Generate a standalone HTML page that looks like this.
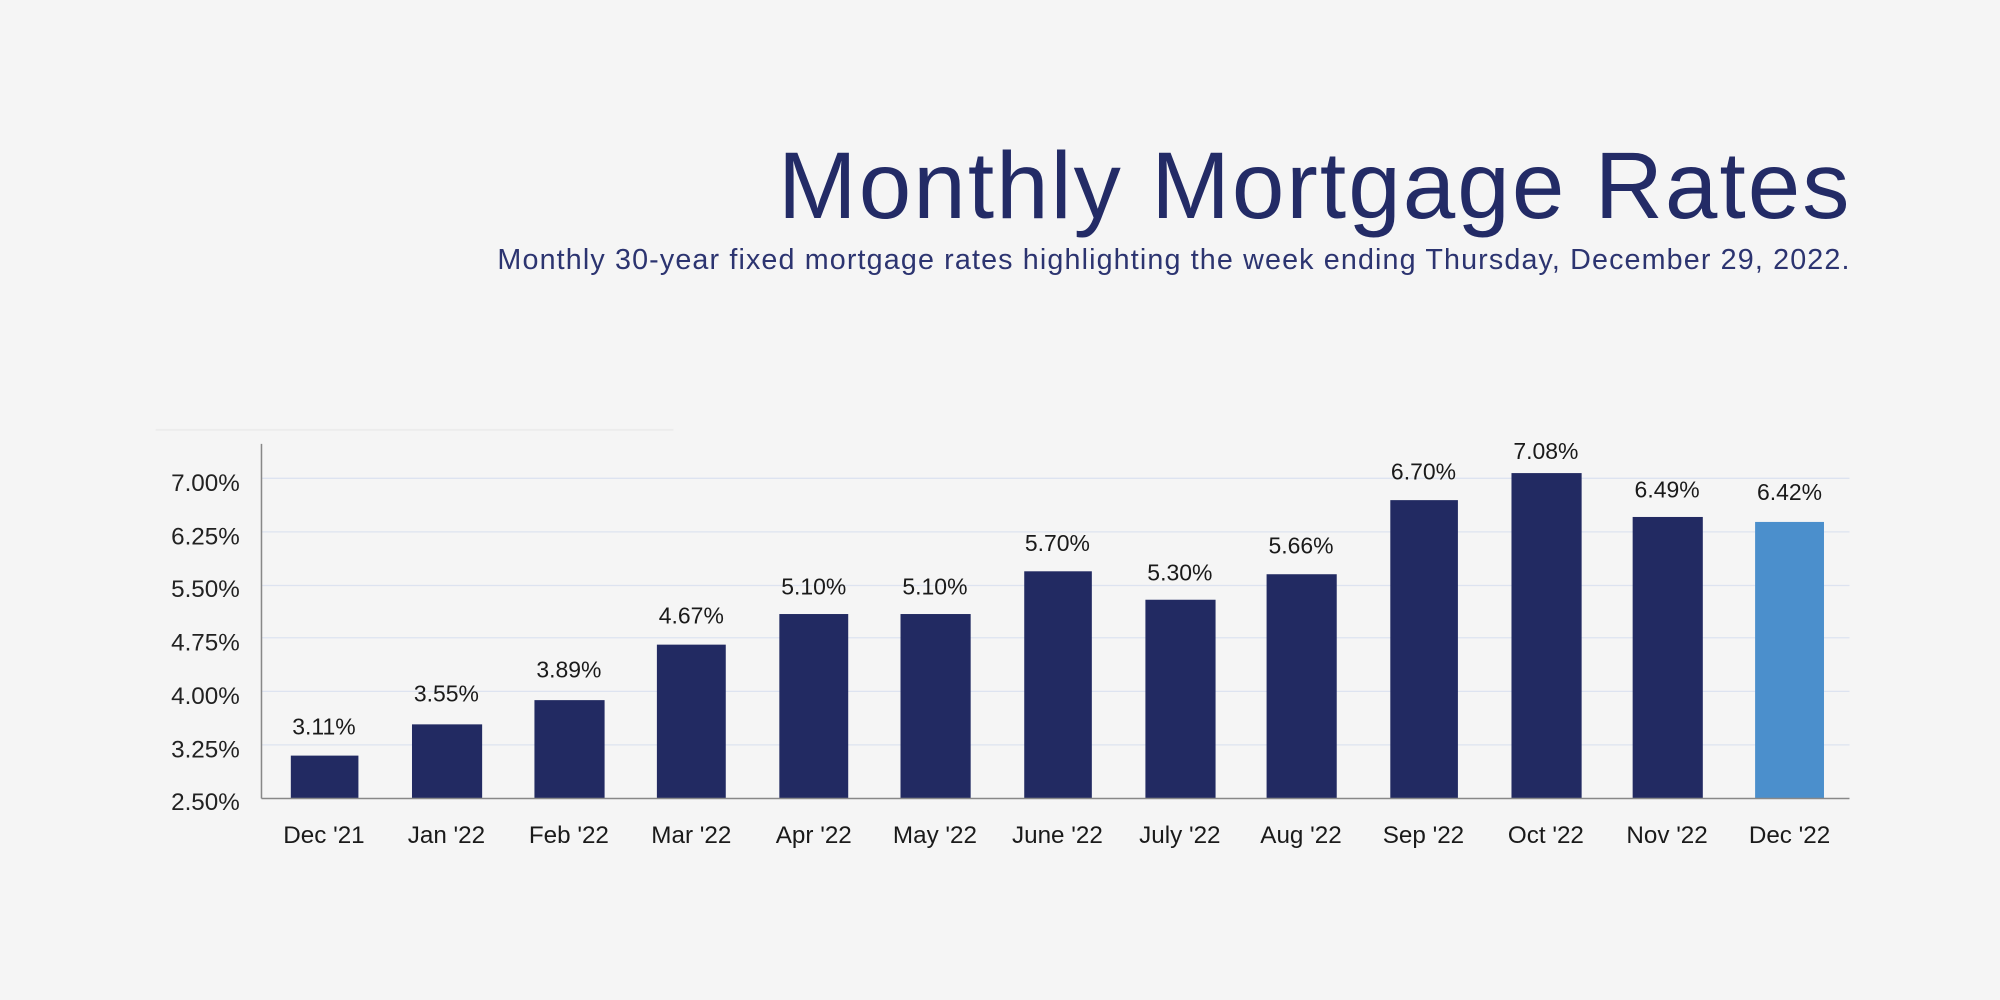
<!DOCTYPE html>
<html><head><meta charset="utf-8"><style>
html,body{margin:0;padding:0;background:#f5f5f5;}
svg{display:block;font-family:"Liberation Sans",Arial,sans-serif;}
</style></head><body>
<svg width="2000" height="1000" viewBox="0 0 1568 784" xmlns="http://www.w3.org/2000/svg">
<rect width="1568" height="784" fill="#f5f5f5"/>
<text x="610" y="171" font-size="74" fill="#232b66" textLength="840" lengthAdjust="spacing">Monthly Mortgage Rates</text>
<text x="390" y="211" font-size="22.5" fill="#2c3470" textLength="1060" lengthAdjust="spacing">Monthly 30-year fixed mortgage rates highlighting the week ending Thursday, December 29, 2022.</text>
<line x1="122" y1="337" x2="528" y2="337" stroke="#ececec" stroke-width="1.5"/>
<g stroke="#dde3f0" stroke-width="1">
<line x1="205" y1="375" x2="1450" y2="375"/>
<line x1="205" y1="417" x2="1450" y2="417"/>
<line x1="205" y1="459" x2="1450" y2="459"/>
<line x1="205" y1="500" x2="1450" y2="500"/>
<line x1="205" y1="542" x2="1450" y2="542"/>
<line x1="205" y1="584" x2="1450" y2="584"/>
</g>
<g font-size="19" fill="#222" text-anchor="end">
<text x="188" y="385">7.00%</text>
<text x="188" y="427">6.25%</text>
<text x="188" y="468">5.50%</text>
<text x="188" y="510">4.75%</text>
<text x="188" y="552">4.00%</text>
<text x="188" y="594">3.25%</text>
<text x="188" y="635">2.50%</text>
</g>
<g fill="#222a62">
<rect x="228" y="592.4" width="53" height="33.6"/>
<rect x="323" y="567.9" width="55" height="58.1"/>
<rect x="419" y="548.9" width="55" height="77.1"/>
<rect x="515" y="505.4" width="54" height="120.6"/>
<rect x="611" y="481.4" width="54" height="144.6"/>
<rect x="706" y="481.4" width="55" height="144.6"/>
<rect x="803" y="447.9" width="53" height="178.1"/>
<rect x="898" y="470.2" width="55" height="155.8"/>
<rect x="993" y="450.2" width="55" height="175.8"/>
<rect x="1090" y="392.1" width="53" height="233.9"/>
<rect x="1185" y="370.9" width="55" height="255.1"/>
<rect x="1280" y="405.3" width="55" height="220.7"/>
</g>
<rect x="1376" y="409.2" width="54" height="216.8" fill="#4b8fcc"/>
<line x1="205" y1="348" x2="205" y2="626" stroke="#888" stroke-width="1.2"/>
<line x1="205" y1="626" x2="1450" y2="626" stroke="#888" stroke-width="1.2"/>
<g font-size="18" fill="#1a1a1a" text-anchor="middle">
<text x="254" y="576">3.11%</text>
<text x="350" y="550">3.55%</text>
<text x="446" y="531">3.89%</text>
<text x="542" y="489">4.67%</text>
<text x="638" y="466">5.10%</text>
<text x="733" y="466">5.10%</text>
<text x="829" y="432">5.70%</text>
<text x="925" y="455">5.30%</text>
<text x="1020" y="434">5.66%</text>
<text x="1116" y="376">6.70%</text>
<text x="1212" y="360">7.08%</text>
<text x="1307" y="390">6.49%</text>
<text x="1403" y="392">6.42%</text>
</g>
<g font-size="19" fill="#1a1a1a" text-anchor="middle">
<text x="254" y="661">Dec '21</text>
<text x="350" y="661">Jan '22</text>
<text x="446" y="661">Feb '22</text>
<text x="542" y="661">Mar '22</text>
<text x="638" y="661">Apr '22</text>
<text x="733" y="661">May '22</text>
<text x="829" y="661">June '22</text>
<text x="925" y="661">July '22</text>
<text x="1020" y="661">Aug '22</text>
<text x="1116" y="661">Sep '22</text>
<text x="1212" y="661">Oct '22</text>
<text x="1307" y="661">Nov '22</text>
<text x="1403" y="661">Dec '22</text>
</g>
</svg>
</body></html>
